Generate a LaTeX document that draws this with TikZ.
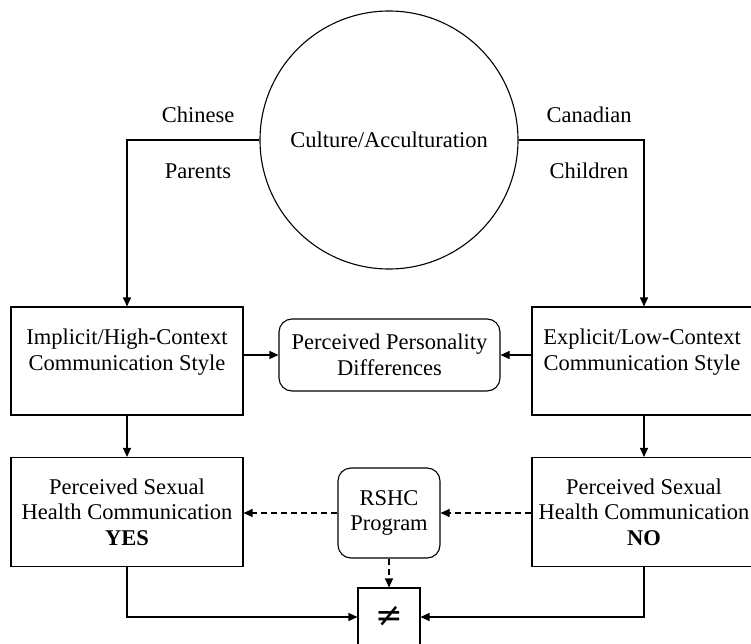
\documentclass[tikz,border=0pt]{standalone}
\usepackage{fontspec}
\setmainfont{Liberation Serif}
\newfontfamily\symfnt{DejaVu Sans}
\usetikzlibrary{arrows.meta}
\tikzset{
  txt/.style={font=\fontsize{22.5}{25.5}\selectfont, align=center, inner sep=0pt},
  boxr/.style={draw, line width=1.1pt, inner sep=0pt, align=center, font=\fontsize{22.5}{25.5}\selectfont},
  rboxr/.style={boxr, rounded corners=13pt},
  arr/.style={line width=1.1pt, -{Triangle[length=9pt,width=8pt]}},
  darr/.style={arr, dash pattern=on 6pt off 4pt}
}
\begin{document}
\begin{tikzpicture}[x=1pt,y=-1pt]
\useasboundingbox (0,0) rectangle (751,644);
% circle
\node[boxr, circle, minimum size=258pt] (C) at (389,140) {Culture/Acculturation};
\node[txt] (chn) at (198,115) {Chinese};
\node[txt] (par) at (198,171) {Parents};
\node[txt] (can) at (589,115) {Canadian};
\node[txt] (chl) at (589,171) {Children};
% first row
\node[boxr, minimum width=232pt, minimum height=108pt] (L1) at (127,361) {};
\node[txt] (L1t) at (127,352) {Implicit/High-Context\\Communication Style};
\node[boxr, minimum width=224pt, minimum height=108pt] (R1) at (644,361) {};
\node[txt] (R1t) at (642,352) {Explicit/Low-Context\\Communication Style};
\node[rboxr, minimum width=221pt, minimum height=72pt] (M) at (389.5,355) {Perceived Personality\\Differences};
% second row
\node[boxr, minimum width=232pt, minimum height=109pt] (L2) at (127,512) {Perceived Sexual\\Health Communication\\\textbf{YES}};
\node[boxr, minimum width=224pt, minimum height=109pt] (R2) at (644,512) {Perceived Sexual\\Health Communication\\\textbf{NO}};
\node[rboxr, minimum width=102pt, minimum height=90pt] (P) at (389,513) {RSHC\\Program};
\node[boxr, minimum width=62pt, minimum height=58pt] (N) at (389,617) {};
\node[inner sep=0pt, font=\symfnt\fontsize{33}{33}\selectfont] (Nt) at (389,616) {≠};
% connectors
\draw[arr] (C.west) -| (L1.north);
\draw[arr] (C.east) -| (R1.north);
\draw[arr] (L1.east |- M.west) -- (M.west);
\draw[arr] (R1.west |- M.east) -- (M.east);
\draw[arr] (L1.south) -- (L2.north);
\draw[arr] (R1.south) -- (R2.north);
\draw[darr] (R2.west |- P.east) -- (P.east);
\draw[darr] (P.west) -- (L2.east |- P.west);
\draw[darr] (P.south) -- (N.north);
\draw[arr] (L2.south) |- (N.west);
\draw[arr] (R2.south) |- (N.east);
\end{tikzpicture}
\end{document}
